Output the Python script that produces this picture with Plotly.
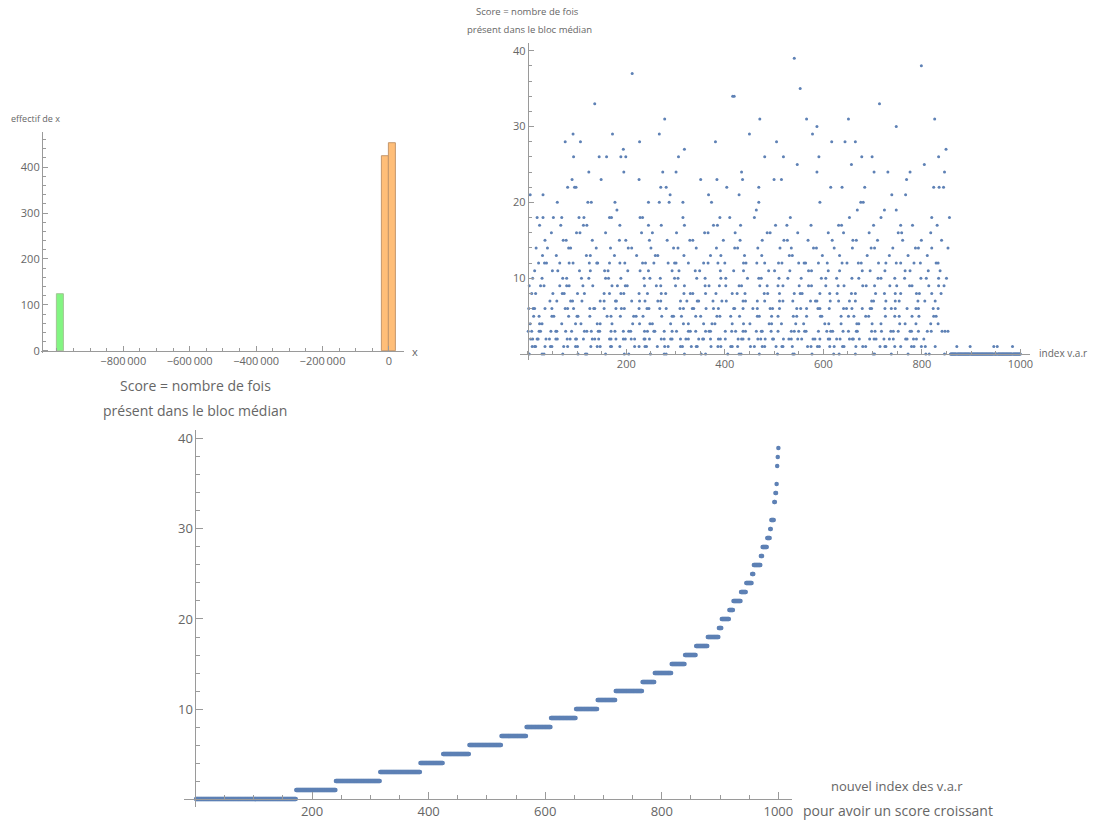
import plotly.graph_objects as go

W, H = 1094, 823

# ---------------- Histogram (top-left) ----------------
hist_left_edges = [-1000000, -20000, 0]
hist_bin_width = 20000
hist_counts = [124, 424, 452]
hist_fill = ['#82F582', '#FFBE78', '#FFBE78']
hist_edge = ['#A3C495', '#C4976C', '#C4976C']
hist_xticks = [-800000, -600000, -400000, -200000, 0]
hist_xticktext = ['\u2212800\u2009000', '\u2212600\u2009000', '\u2212400\u2009000', '\u2212200\u2009000', '0']
hist_yticks = [0, 100, 200, 300, 400]

# ---------------- Scores by index (top-right) ----------------
score_levels = list(range(0, 40))
level_positions = [
    [3, 29, 33, 71, 102, 117, 120, 158, 196, 205, 249, 277, 281, 318, 352, 361, 406, 429, 433, 470,
     507, 538, 541, 577, 621, 632, 665, 701, 704, 738, 772, 808, 815, 846],                                   # 0
    [9, 14, 16, 35, 46, 49, 73, 81, 97, 101, 128, 141, 147, 168, 170, 187, 217, 226, 238, 241,
     263, 278, 285, 310, 314, 332, 342, 344, 372, 386, 392, 412, 415, 426, 452, 460, 476, 481, 504, 516,
     518, 537, 568, 575, 588, 592, 613, 622, 639, 642, 666, 680, 686, 715, 725, 727, 745, 757, 779, 784,
     799, 807, 827],                                                                                         # 1
    [6, 10, 19, 21, 37, 44, 57, 60, 80, 86, 97, 99, 113, 131, 136, 144, 166, 169, 179, 194,
     198, 210, 217, 236, 238, 247, 271, 277, 290, 293, 310, 321, 326, 347, 355, 357, 371, 387, 391, 401,
     427, 434, 437, 449, 467, 473, 482, 497, 499, 519, 530, 535, 548, 556, 579, 583, 593, 610, 613, 627,
     634, 653, 659, 661, 673, 694, 703, 707, 723, 734, 742, 767, 770, 783, 789, 804],                          # 2
    [1, 8, 23, 26, 47, 57, 59, 77, 89, 115, 120, 129, 143, 146, 169, 177, 194, 205, 209, 237,
     243, 256, 258, 277, 293, 302, 326, 330, 341, 361, 368, 371, 401, 414, 422, 437, 442, 464, 474, 476,
     494, 508, 535, 541, 550, 562, 565, 590, 607, 615, 619, 640, 651, 667, 669, 698, 705, 718, 737, 742,
     752, 776, 779, 793, 811, 819, 841, 847, 853],                                                            # 3
    [5, 24, 29, 69, 97, 108, 141, 147, 171, 213, 227, 248, 253, 290, 316, 326, 357, 374, 380, 415,
     438, 451, 490, 495, 515, 544, 560, 603, 611, 636, 668, 672, 699, 717, 755, 766, 788, 818, 833],            # 4
    [12, 23, 49, 53, 83, 100, 102, 126, 161, 169, 188, 215, 220, 234, 272, 293, 296, 312, 341, 351,
     384, 390, 412, 430, 466, 470, 495, 508, 539, 546, 566, 594, 597, 636, 651, 662, 686, 692, 726, 745,
     754, 780, 794, 824, 829],                                                                                # 5
    [2, 11, 14, 35, 49, 76, 81, 93, 126, 134, 136, 155, 179, 190, 196, 226, 242, 246, 268, 281,
     309, 316, 334, 337, 362, 377, 387, 418, 420, 437, 457, 466, 492, 497, 511, 546, 554, 566, 589, 593,
     612, 641, 647, 658, 679, 695, 698, 725, 738, 746, 770, 788, 793, 823, 833],                               # 6
    [45, 59, 87, 91, 110, 147, 155, 178, 180, 211, 227, 238, 264, 270, 310, 323, 344, 347, 376, 394,
     403, 437, 442, 466, 481, 511, 518, 538, 574, 584, 587, 614, 631, 653, 665, 698, 702, 727, 746, 754,
     792, 806, 827],                                                                                          # 7
    [8, 16, 51, 70, 74, 101, 115, 155, 166, 189, 195, 226, 243, 271, 280, 317, 330, 335, 361, 382,
     415, 425, 441, 480, 487, 511, 541, 553, 557, 593, 613, 628, 657, 665, 706, 724, 746, 757, 789, 795,
     820, 839],                                                                                               # 8
    [3, 26, 33, 65, 79, 84, 112, 132, 171, 182, 198, 202, 237, 261, 270, 300, 318, 360, 368, 389,
     402, 429, 434, 471, 486, 508, 518, 551, 570, 576, 605, 630, 642, 680, 687, 704, 735, 749, 775, 780,
     814, 834, 845],                                                                                          # 9
    [10, 29, 71, 79, 109, 124, 158, 164, 189, 236, 248, 269, 298, 305, 343, 360, 392, 402, 446, 469,
     474, 510, 528, 555, 596, 605, 627, 658, 672, 711, 717, 745, 765, 798, 809, 834, 850],                     # 10
    [14, 50, 61, 105, 127, 156, 163, 203, 228, 245, 293, 307, 340, 349, 391, 418, 438, 489, 501, 532,
     570, 576, 610, 633, 679, 695, 725, 766, 776, 813, 837],                                                   # 11
    [22, 34, 38, 65, 84, 92, 125, 140, 142, 166, 187, 197, 233, 239, 256, 285, 298, 301, 326, 357,
     366, 386, 400, 438, 443, 465, 481, 509, 516, 550, 561, 564, 590, 608, 638, 648, 671, 677, 712, 727,
     748, 757, 784, 797, 829, 833],                                                                           # 12
    [30, 58, 119, 127, 176, 221, 259, 264, 317, 371, 392, 440, 475, 531, 537, 598, 633, 689, 734, 772,
     811],                                                                                                    # 13
    [17, 40, 83, 87, 139, 168, 204, 211, 250, 296, 305, 342, 383, 420, 426, 467, 512, 535, 580, 586,
     622, 659, 697, 704, 741, 787, 793, 820, 853],                                                             # 14
    [35, 72, 78, 131, 186, 199, 247, 283, 329, 335, 397, 431, 476, 520, 527, 569, 618, 660, 667, 710,
     761, 799, 840],                                                                                          # 15
    [48, 99, 106, 158, 231, 253, 302, 359, 366, 421, 486, 492, 548, 610, 641, 693, 752, 759, 818],             # 16
    [24, 67, 113, 120, 187, 245, 271, 318, 377, 385, 432, 503, 526, 575, 631, 637, 702, 757, 781, 831],        # 17
    [19, 31, 52, 69, 104, 114, 166, 170, 228, 233, 315, 390, 410, 460, 533, 653, 717, 820, 856],               # 18
    [181, 464, 669, 724, 748],                                                                               # 19
    [60, 122, 129, 177, 245, 267, 287, 315, 373, 469, 593, 676, 681],                                        # 20
    [5, 31, 289, 367, 429, 739, 767],                                                                        # 21
    [81, 95, 98, 270, 281, 404, 469, 615, 638, 684, 824, 835, 844],                                          # 22
    [90, 149, 226, 351, 384, 436, 500, 515, 769],                                                            # 23
    [124, 195, 274, 301, 434, 587, 703, 731, 776, 846],                                                      # 24
    [547, 657, 805],                                                                                         # 25
    [93, 145, 160, 189, 199, 306, 481, 519, 591, 678, 699, 834],                                             # 26
    [194, 318, 849],                                                                                         # 27
    [76, 107, 227, 381, 505, 617, 644, 665],                                                                 # 28
    [92, 172, 267, 450, 578],                                                                                # 29
    [587, 748],                                                                                              # 30
    [278, 471, 566, 651, 826],                                                                               # 31
    [],                                                                                                      # 32
    [136, 714],                                                                                              # 33
    [416, 419],                                                                                              # 34
    [553],                                                                                                   # 35
    [],                                                                                                      # 36
    [212],                                                                                                   # 37
    [799],                                                                                                   # 38
    [541],                                                                                                   # 39
]
# tail block: every index in this block has score 0, except a few with score 1
zero_block_first = 858
zero_block_last = 1000
zero_block_ones = [871, 898, 946, 953, 984]

top_xticks = [200, 400, 600, 800, 1000]
top_yticks = [10, 20, 30, 40]

# ---------------- assemble points ----------------
pt_x, pt_y = [], []
for s, idxs in zip(score_levels, level_positions):
    for i in idxs:
        pt_x.append(i)
        pt_y.append(s)
for i in range(zero_block_first, zero_block_last + 1):
    pt_x.append(i)
    pt_y.append(1 if i in zero_block_ones else 0)

sorted_scores = sorted(pt_y)
new_index = list(range(1, len(sorted_scores) + 1))

# ---------------- figure ----------------
def fx(p):
    return p / W

def fy(p):
    return 1 - (p * 1.004 + 0.8) / H

FONT = "Open Sans"
TICKC = "#666666"
AXC = "#9a9a9a"
MARK = "#5E81B5"

fig = go.Figure()

fig.add_trace(go.Bar(
    x=[l + hist_bin_width / 2 for l in hist_left_edges], y=hist_counts,
    width=[hist_bin_width] * len(hist_counts),
    marker=dict(color=hist_fill, line=dict(color=hist_edge, width=1)),
    xaxis="x", yaxis="y", showlegend=False))

fig.add_trace(go.Scatter(
    x=pt_x, y=pt_y, mode="markers",
    marker=dict(color=MARK, size=3, line=dict(width=0)),
    xaxis="x2", yaxis="y2", showlegend=False))

fig.add_trace(go.Scatter(
    x=new_index, y=sorted_scores, mode="markers",
    marker=dict(color=MARK, size=4.5, line=dict(width=0)),
    xaxis="x3", yaxis="y3", showlegend=False))

def axis_common(fs, ticklen=5):
    return dict(showgrid=False, zeroline=False, showline=True, linecolor=AXC, linewidth=1,
                ticks="inside", ticklen=ticklen, tickcolor=AXC, tickwidth=1,
                tickfont=dict(family=FONT, size=fs, color=TICKC), fixedrange=True)

# histogram axes
hx0 = 390.0
hscale = 3.33e-4
fig.update_layout(
    xaxis=dict(domain=[fx(41), fx(405)],
               range=[(41 - hx0) / hscale, (405 - hx0) / hscale],
               anchor="free", position=fy(350.7),
               tickmode="array", tickvals=hist_xticks, ticktext=hist_xticktext,
               minor=dict(tickmode="linear", tick0=0, dtick=50000, ticks="inside", ticklen=3, tickcolor=AXC),
               **axis_common(11)),
    yaxis=dict(domain=[fy(353), fy(131.7)],
               range=[-5, 476],
               anchor="free", position=fx(42),
               tickmode="array", tickvals=hist_yticks,
               minor=dict(tickmode="linear", tick0=0, dtick=20, ticks="inside", ticklen=3, tickcolor=AXC),
               **axis_common(11)),
)

# top-right scatter axes
tx0, tsc = 529.2, 0.494
ty0, tys = 354.0, 7.6
fig.update_layout(
    xaxis2=dict(domain=[fx(521.8), fx(1033)],
                range=[(521.8 - tx0) / tsc, (1033 - tx0) / tsc],
                anchor="free", position=fy(ty0),
                tickmode="array", tickvals=top_xticks,
                minor=dict(tickmode="linear", tick0=0, dtick=50, ticks="inside", ticklen=3, tickcolor=AXC),
                **axis_common(11)),
    yaxis2=dict(domain=[fy(360.1), fy(42)],
                range=[(ty0 - 360.1) / tys, (ty0 - 42) / tys],
                anchor="free", position=fx(tx0),
                tickmode="array", tickvals=top_yticks,
                minor=dict(tickmode="linear", tick0=0, dtick=2, ticks="inside", ticklen=3, tickcolor=AXC),
                **axis_common(11)),
)

# bottom axes
bx0, bsc = 196.0, 0.5845
by0, bys = 800.0, 9.025
fig.update_layout(
    xaxis3=dict(domain=[fx(185), fx(794.3)],
                range=[(185 - bx0) / bsc, (794.3 - bx0) / bsc],
                anchor="free", position=fy(by0),
                tickmode="array", tickvals=top_xticks,
                minor=dict(tickmode="linear", tick0=0, dtick=50, ticks="inside", ticklen=4, tickcolor=AXC),
                **axis_common(13, ticklen=7)),
    yaxis3=dict(domain=[fy(808.3), fy(430)],
                range=[(by0 - 808.3) / bys, (by0 - 430) / bys],
                anchor="free", position=fx(bx0),
                tickmode="array", tickvals=top_yticks,
                minor=dict(tickmode="linear", tick0=0, dtick=2, ticks="inside", ticklen=4, tickcolor=AXC),
                **axis_common(13, ticklen=7)),
)

def label(text, x, y, size, xanchor="center"):
    fig.add_annotation(text=text, x=fx(x), y=fy(y), xref="paper", yref="paper",
                       showarrow=False, xanchor=xanchor, yanchor="middle",
                       font=dict(family=FONT, size=size, color=TICKC))

label("effectif de x", 9, 117.5, 9, "left")
label("x", 411, 351, 11, "left")
label("Score = nombre de fois", 529, 11, 9.5)
label("présent dans le bloc médian", 531, 28.5, 9.5)
label("index v.a.r", 1040, 353, 10, "left")
label("Score = nombre de fois", 196, 386, 14)
label("présent dans le bloc médian", 196, 411, 14)
label("nouvel index des v.a.r", 899, 787, 13)
label("pour avoir un score croissant", 900, 811, 14)

fig.update_layout(
    width=W, height=H,
    margin=dict(l=0, r=0, t=0, b=0),
    paper_bgcolor="white", plot_bgcolor="white",
    bargap=0, showlegend=False,
    font=dict(family=FONT),
)

fig.write_html("out.html", config={"displayModeBar": False})
